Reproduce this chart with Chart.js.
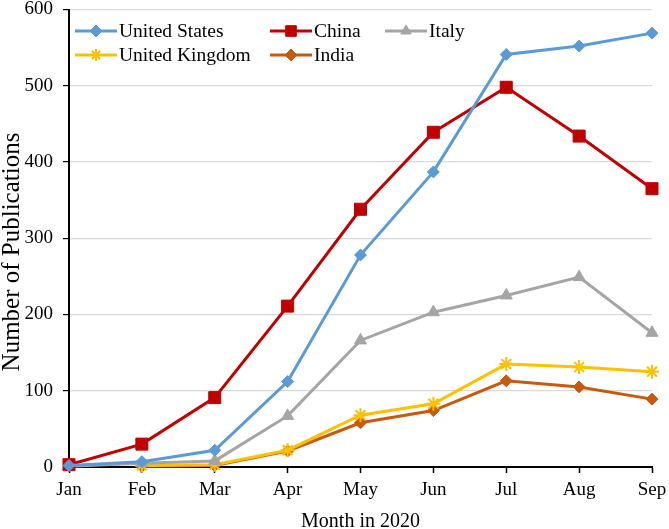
<!DOCTYPE html>
<html>
<head>
<meta charset="utf-8">
<script src="https://cdn.jsdelivr.net/npm/chart.js@4"></script>
<style>
  html, body { margin: 0; padding: 0; background: #fff; }
  #wrap { width: 669px; height: 529px; }
</style>
</head>
<body>
<div id="wrap"><canvas id="pubChart" width="669" height="529"></canvas></div>
<script>
// Monthly COVID-19 publication counts by country
const months = ['Jan', 'Feb', 'Mar', 'Apr', 'May', 'Jun', 'Jul', 'Aug', 'Sep'];
const usValues = [2, 7, 22, 112, 278, 387, 541, 552, 569];
const chinaValues = [3, 30, 91, 211, 338, 439, 498, 434, 365];
const italyValues = [1, 5, 8, 67, 166, 203, 225, 249, 176];
const ukValues = [null, 2, 3, 22, 68, 83, 135, 131, 125];
const indiaValues = [null, 1, 2, 21, 58, 74, 113, 105, 89];
const yTicks = [0, 100, 200, 300, 400, 500, 600];

const serif = "'Liberation Serif', 'Times New Roman', serif";

function series(label, data, color, style, radius) {
    return {
        label: label,
        data: data,
        borderColor: color,
        backgroundColor: color,
        borderWidth: 3,
        pointStyle: style,
        pointRadius: radius,
        pointHoverRadius: radius,
        pointBorderWidth: style === 'star' ? 2 : 1,
        tension: 0,
        clip: false
    };
}

const datasets = [
    series('United States', usValues, '#5b9bd5', 'rectRot', 6),
    series('China', chinaValues, '#c00000', 'rect', 8.5),
    series('Italy', italyValues, '#a5a5a5', 'triangle', 7),
    series('United Kingdom', ukValues, '#ffc000', 'star', 7),
    series('India', indiaValues, '#c55a11', 'rectRot', 6)
];

// legend drawn in two rows with aligned columns, like the original figure
const legendSlots = [[75, 31], [270, 31], [385, 31], [75, 55], [270, 55]];
const extras = {
    id: 'extras',
    afterDraw(chart) {
        const c = chart.ctx;
        c.save();
        c.font = '19.5px ' + serif;
        c.textBaseline = 'middle';
        chart.data.datasets.forEach((ds, i) => {
            const [x, y] = legendSlots[i];
            c.strokeStyle = ds.borderColor;
            c.fillStyle = ds.backgroundColor;
            c.lineWidth = 3;
            c.beginPath();
            c.moveTo(x, y);
            c.lineTo(x + 42, y);
            c.stroke();
            c.lineWidth = ds.pointBorderWidth;
            Chart.helpers.drawPoint(c, {
                pointStyle: ds.pointStyle,
                radius: ds.pointStyle === 'rect' ? 7.5 : 6,
                borderWidth: ds.pointBorderWidth
            }, x + 21, y);
            c.fillStyle = '#000';
            c.fillText(ds.label, x + 44, y + 1);
        });

        // y axis title, placed a bit below the plot centre as in the figure
        c.font = '25px ' + serif;
        c.textAlign = 'center';
        c.translate(12, 252);
        c.rotate(-Math.PI / 2);
        c.fillText('Number of Publications', 0, 0);
        c.restore();
    }
};

const ctx = document.getElementById('pubChart').getContext('2d');
const pubChart = new Chart(ctx, {
    type: 'line',
    data: { labels: months, datasets: datasets },
    plugins: [extras],
    options: {
        responsive: false,
        animation: false,
        layout: { padding: { top: 8, right: 17, left: 0, bottom: 0 } },
        plugins: {
            legend: { display: false },
            tooltip: { enabled: false }
        },
        scales: {
            x: {
                offset: false,
                grid: { drawOnChartArea: false, tickColor: '#000', tickLength: 6, tickWidth: 1.5 },
                border: { color: '#000', width: 2 },
                ticks: { color: '#000', font: { family: serif, size: 19 }, padding: 6, maxRotation: 0 },
                title: { display: true, text: 'Month in 2020', color: '#000', font: { family: serif, size: 20 }, padding: { top: 0, bottom: -5 } },
                afterFit(scale) {
                    scale.height = 62;
                    scale.paddingLeft = 0;
                    scale.paddingRight = 0;
                }
            },
            y: {
                min: 0,
                max: 600,
                afterBuildTicks(scale) { scale.ticks = yTicks.map(v => ({ value: v })); },
                grid: { color: '#d9d9d9', lineWidth: 1.2, tickColor: '#000', tickLength: 6 },
                border: { color: '#000', width: 2 },
                ticks: { color: '#000', font: { family: serif, size: 19 }, padding: 10 },
                afterFit(scale) {
                    scale.width = 69;
                    scale.paddingTop = 0;
                    scale.paddingBottom = 0;
                }
            }
        }
    }
});
</script>
</body>
</html>
